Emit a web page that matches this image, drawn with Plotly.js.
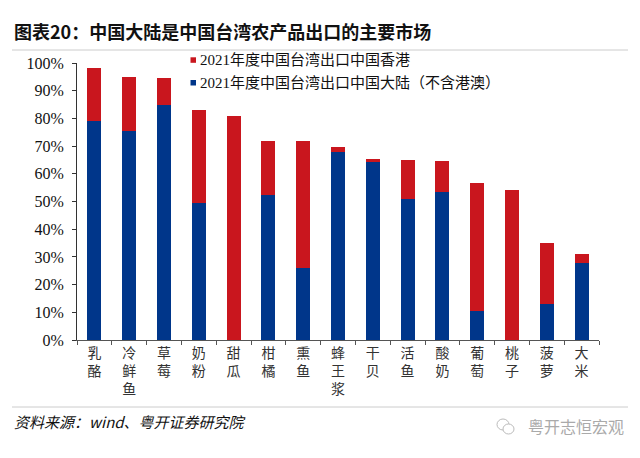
<!DOCTYPE html>
<html>
<head>
<meta charset="utf-8">
<script src="https://cdn.plot.ly/plotly-3.0.1.min.js"></script>
<style>html,body{margin:0;padding:0;background:#fff;}#chart{width:640px;height:458px;}</style>
</head>
<body>
<div id="chart"></div>
<script>
// ---- data ----
const categories = ["乳酪","冷鲜鱼","草莓","奶粉","甜瓜","柑橘","熏鱼","蜂王浆","干贝","活鱼","酸奶","葡萄","桃子","菠萝","大米"];
const mainlandShare = [78.9, 75.3, 84.7, 49.3, 0, 52.2, 26.0, 68.0, 64.4, 50.8, 53.5, 10.6, 0, 13.0, 27.9];
const hongkongShare = [19.3, 19.5, 9.9, 33.6, 80.7, 19.5, 45.7, 1.6, 0.8, 14.2, 11.2, 46.2, 54.2, 22.1, 3.0];
const seriesNames = ["2021年度中国台湾出口中国香港", "2021年度中国台湾出口中国大陆（不含港澳）"];
const yTicks = [0,10,20,30,40,50,60,70,80,90,100];

// ---- layout helpers ----
const W = 640, H = 458;
const L = 77, R = 41, T = 63, B = 118;
const PW = W - L - R, PH = H - T - B;
const px = v => (v - L) / PW;
const py = v => (H - B - v) / PH;

const RED = "#C9161E", BLUE = "#00368A";
const serif = "Liberation Serif";
const legendFont = "Liberation Serif, Noto Sans CJK SC";
const cjk = "Noto Sans CJK SC";

const tickText = categories.map(c => c.split("").join("<br>"));

const traces = [
  {type: "bar", x: categories, y: mainlandShare, name: seriesNames[1], marker: {color: BLUE}, showlegend: false, hoverinfo: "skip"},
  {type: "bar", x: categories, y: hongkongShare, name: seriesNames[0], marker: {color: RED}, showlegend: false, hoverinfo: "skip"}
];

const layout = {
  width: W, height: H,
  margin: {l: L, r: R, t: T, b: B, pad: 0},
  paper_bgcolor: "#fff", plot_bgcolor: "#fff",
  barmode: "stack", bargap: 0.6,
  showlegend: false,
  xaxis: {type: "category", tickvals: categories, ticktext: tickText, tickson: "boundaries",
          ticks: "outside", ticklen: 4, tickcolor: "#555", showline: true, linecolor: "#555", linewidth: 1,
          showgrid: false, zeroline: false, tickangle: 0,
          tickfont: {family: cjk, size: 14, color: "#333"}},
  yaxis: {range: [0, 100], tickvals: yTicks, ticktext: yTicks.map(v => v + "%"),
          ticks: "outside", ticklen: 4, tickcolor: "#333", showline: true, linecolor: "#333", linewidth: 1,
          showgrid: false, zeroline: false, ticklabelstandoff: 5,
          tickfont: {family: serif, size: 16, color: "#111"}},
  shapes: [
    {type: "line", xref: "paper", yref: "paper", x0: px(12), x1: px(628), y0: py(50), y1: py(50), line: {color: "#ccc", width: 1}},
    {type: "line", xref: "paper", yref: "paper", x0: px(12), x1: px(628), y0: py(407), y1: py(407), line: {color: "#ccc", width: 1}},
    {type: "rect", xref: "paper", yref: "paper", x0: px(190.5), x1: px(196), y0: py(62.8), y1: py(57.3), fillcolor: RED, line: {width: 0}},
    {type: "rect", xref: "paper", yref: "paper", x0: px(190.5), x1: px(196), y0: py(85.5), y1: py(80), fillcolor: BLUE, line: {width: 0}},
    {type: "circle", xref: "paper", yref: "paper", x0: px(497), x1: px(509), y0: py(430), y1: py(419), line: {color: "#bbb", width: 1}},
    {type: "circle", xref: "paper", yref: "paper", x0: px(503), x1: px(514), y0: py(434), y1: py(424), line: {color: "#bbb", width: 1}, fillcolor: "#fff"}
  ],
  annotations: [
    {xref: "paper", yref: "paper", x: px(12), y: py(31.5), xanchor: "left", yanchor: "middle", showarrow: false,
     text: "<b>图表20：中国大陆是中国台湾农产品出口的主要市场</b>", font: {family: cjk, size: 18, color: "#111"}},
    {xref: "paper", yref: "paper", x: px(197.5), y: py(60), xanchor: "left", yanchor: "middle", showarrow: false,
     text: seriesNames[0], font: {family: legendFont, size: 15, color: "#111"}},
    {xref: "paper", yref: "paper", x: px(197.5), y: py(82.7), xanchor: "left", yanchor: "middle", showarrow: false,
     text: seriesNames[1], font: {family: legendFont, size: 15, color: "#111"}},
    {xref: "paper", yref: "paper", x: px(12), y: py(421.7), xanchor: "left", yanchor: "middle", showarrow: false,
     text: "<i>资料来源：wind、粤开证券研究院</i>", font: {family: cjk, size: 15, color: "#111"}},
    {xref: "paper", yref: "paper", x: px(526), y: py(426), xanchor: "left", yanchor: "middle", showarrow: false,
     text: "粤开志恒宏观", font: {family: cjk, size: 16, color: "#aaa"}}
  ]
};

Plotly.newPlot("chart", traces, layout, {displayModeBar: false, staticPlot: true});
</script>
</body>
</html>
